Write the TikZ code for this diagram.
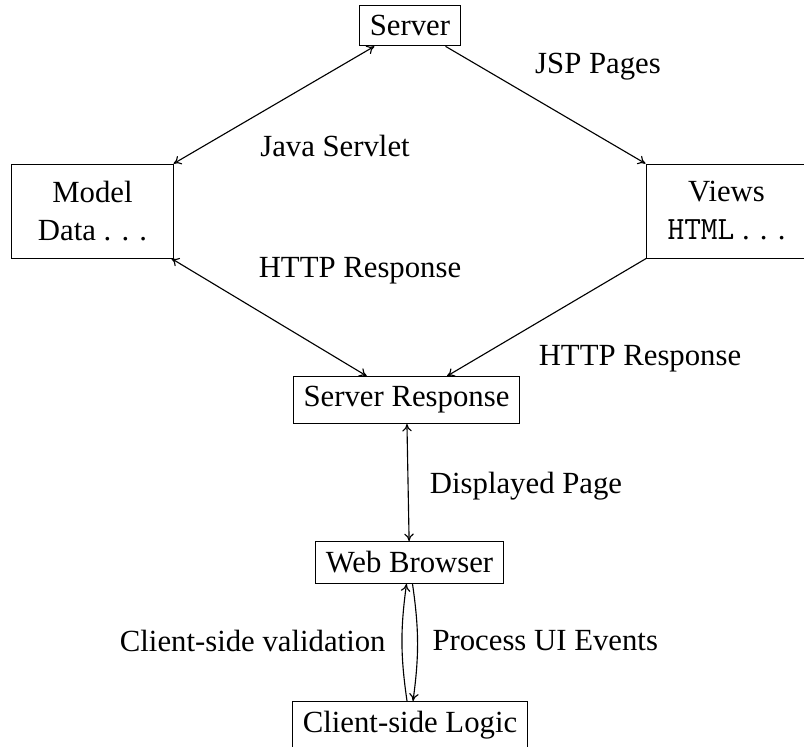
\documentclass[tikz,border=0pt]{standalone}
\usepackage{fontspec}
\setmainfont{Liberation Serif}
\usetikzlibrary{arrows.meta}
% spaced ellipsis
\newcommand{\spdots}{.\kern0.33em.\kern0.33em.}
\begin{document}
\begin{tikzpicture}[x=0.4pt,y=-0.4pt,
  every node/.style={font=\fontsize{12.3}{15.2}\selectfont},
  >={To[length=3pt,width=3.8pt]},
  box/.style={draw, line width=0.4pt, inner sep=4pt},
  bigbox/.style={box, align=center, minimum width=64.4pt, minimum height=37.6pt},
  lbl/.style={inner sep=0pt},
  link/.style={line width=0.45pt, ->},
  dlink/.style={line width=0.45pt, <->}]
  \useasboundingbox (0,0) rectangle (804,746);

  % components
  \node[box] (server) at (410,25.5) {Server};
  \node[bigbox] (model) at (92.5,211) {Model\\Data \spdots};
  \node[bigbox] (views) at (726.5,211)
    {Views\\{\fontsize{13}{15.2}\ttfamily HTML} \spdots};
  \node[box] (resp) at (406.5,400) {Server Response};
  \node[box] (browser) at (409.5,562.5) {Web Browser};
  \node[box, anchor=north, text depth=8pt] (client) at (410,701) {Client-side Logic};

  % connections
  \draw[dlink] (server) -- (model);
  \draw[link] (server) -- (views);
  \draw[dlink] (model) -- (resp);
  \draw[link] (views) -- (resp);
  \draw[dlink] (resp) -- (browser);
  \draw[link] ([xshift=-1.2pt]client.north) to[bend left=8] ([xshift=-1.2pt]browser.south);
  \draw[link] ([xshift=1.2pt]browser.south) to[bend left=8] ([xshift=1.2pt]client.north);

  % labels
  \node[lbl] (jsp) at (598,67) {JSP Pages};
  \node[lbl] (servlet) at (335,146) {Java Servlet};
  \node[lbl] (http1) at (360,271) {HTTP Response};
  \node[lbl] (http2) at (640,359) {HTTP Response};
  \node[lbl] (disp) at (526,486) {Displayed Page};
  \node[lbl, anchor=east] (valid) at (386,641) {Client-side validation};
  \node[lbl, anchor=west] (events) at (432,641) {Process UI Events};
\end{tikzpicture}
\end{document}
